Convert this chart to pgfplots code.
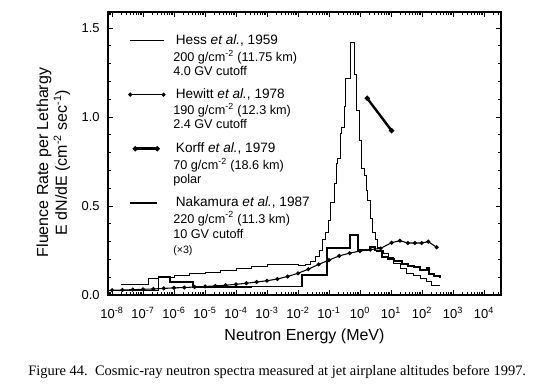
\documentclass[border=0pt]{standalone}
\usepackage{fontspec}
\setmainfont{Liberation Sans}
\newfontfamily\capfont{Liberation Serif}
\usepackage{pgfplots}
\pgfplotsset{compat=1.18}
\pgfplotsset{
  korffleg/.style={legend image code/.code={\path[draw=none] (-2pt,0pt) -- (34.25pt,0pt); \draw[##1] plot coordinates {(3.75pt,0pt) (20.25pt,0pt)};}},
  nakaleg/.style={legend image code/.code={\path[draw=none] (-2pt,0pt) -- (34.25pt,0pt); \draw[##1] (0pt,0pt) -- (20.25pt,0pt);}},
}
\begin{document}
\begin{tikzpicture}[x=1pt,y=1pt]
\path[use as bounding box] (0,0) rectangle (402,292.5);
\begin{axis}[
  at={(81pt,71.25pt)}, anchor=south west,
  width=294.75pt, height=212.25pt, scale only axis,
  xmode=log, xmin=7.4e-9, xmax=3.55e4, ymin=0, ymax=1.59,
  xtickten={-8,-7,-6,-5,-4,-3,-2,-1,0,1,2,3,4},
  xticklabels={10\textsuperscript{-8},10\textsuperscript{-7},10\textsuperscript{-6},10\textsuperscript{-5},10\textsuperscript{-4},10\textsuperscript{-3},10\textsuperscript{-2},10\textsuperscript{-1},10\textsuperscript{0},10\textsuperscript{1},10\textsuperscript{2},10\textsuperscript{3},10\textsuperscript{4}},
  minor xtick={8e-9,9e-9,
    2e-8,3e-8,4e-8,5e-8,6e-8,7e-8,8e-8,9e-8,
    2e-7,3e-7,4e-7,5e-7,6e-7,7e-7,8e-7,9e-7,
    2e-6,3e-6,4e-6,5e-6,6e-6,7e-6,8e-6,9e-6,
    2e-5,3e-5,4e-5,5e-5,6e-5,7e-5,8e-5,9e-5,
    2e-4,3e-4,4e-4,5e-4,6e-4,7e-4,8e-4,9e-4,
    2e-3,3e-3,4e-3,5e-3,6e-3,7e-3,8e-3,9e-3,
    0.02,0.03,0.04,0.05,0.06,0.07,0.08,0.09,
    0.2,0.3,0.4,0.5,0.6,0.7,0.8,0.9,
    2,3,4,5,6,7,8,9,
    20,30,40,50,60,70,80,90,
    200,300,400,500,600,700,800,900,
    2000,3000,4000,5000,6000,7000,8000,9000,
    20000,30000},
  ytick={0,0.5,1,1.5}, yticklabels={0.0,0.5,1.0,1.5},
  minor ytick={0.1,0.2,0.3,0.4,0.6,0.7,0.8,0.9,1.1,1.2,1.3,1.4},
  tick align=inside, major tick length=3.5pt, minor tick length=2pt,
  tick style={black, line width=0.6pt},
  axis line style={line width=0.8pt},
  xticklabel style={font=\fontsize{9.7}{11}\selectfont, anchor=base, yshift=-17.6pt},
  yticklabel style={font=\fontsize{9.7}{11}\selectfont, anchor=east, xshift=-2.8pt},
  xlabel={Neutron Energy (MeV)},
  xlabel style={font=\fontsize{12}{14}\selectfont, at={(axis description cs:0.5,-0.145)}, anchor=center},
  ylabel={Fluence Rate per Lethargy\\E dN/dE (cm\textsuperscript{-2} sec\textsuperscript{-1})},
  ylabel style={font=\fontsize{12}{14}\selectfont, align=center, at={(axis description cs:-0.139,0.468)}, anchor=center},
  legend image code/.code={\path[draw=none] (-2pt,0pt) -- (34.25pt,0pt); \draw[#1] plot coordinates {(0pt,0pt) (25pt,0pt)};},
  legend cell align=left,
  legend style={at={(axis description cs:0.0492,0.922)}, anchor=north west, draw=none, fill=none,
    font=\fontsize{10.2}{12}\selectfont, row sep=31pt, inner sep=0pt,
    nodes={inner sep=0pt, text height=7.5pt, text depth=2pt}},
]
% Hess et al. 1959
\addplot[const plot mark left, black, line width=0.5pt, no marks] coordinates {
(1.9e-8,0.062) (1.48e-7,0.094) (3.16e-7,0.10) (1e-6,0.11) (3.16e-6,0.12) (1e-5,0.13)
(3.16e-5,0.14) (1e-4,0.15) (3.16e-4,0.16) (1e-3,0.17) (3.16e-3,0.17) (1e-2,0.165)
(0.0178,0.17) (0.0251,0.19) (0.0355,0.215) (0.0501,0.25) (0.0603,0.31) (0.0741,0.35)
(0.0933,0.42) (0.107,0.52) (0.151,0.63) (0.178,0.74) (0.19,0.77) (0.226,0.91)
(0.257,0.94) (0.302,1.06) (0.347,1.22) (0.479,1.42) (0.646,1.24) (0.776,1.04)
(0.933,0.87) (1.07,0.71) (1.35,0.67) (1.55,0.59) (1.70,0.53) (2.09,0.43) (2.45,0.35)
(3.02,0.31) (3.55,0.27) (4.47,0.25) (5.5,0.235) (7.94,0.21) (11.5,0.18) (19.5,0.15)
(31.6,0.12) (51.3,0.11) (87.1,0.095) (141,0.075) (204,0.056) (380,0.056)};
\addlegendentry{Hess \textit{et al.}, 1959}
% Hewitt et al. 1978
\addplot[black, line width=0.8pt, mark=*, mark size=1.1pt] coordinates {
(1e-8,0.027) (2.15e-8,0.028) (4.64e-8,0.030) (1e-7,0.032) (2.15e-7,0.034) (4.64e-7,0.037)
(1e-6,0.040) (2.15e-6,0.042) (4.64e-6,0.045) (1e-5,0.048) (2.15e-5,0.051) (4.64e-5,0.055)
(1e-4,0.060) (2.15e-4,0.066) (4.64e-4,0.073) (1e-3,0.080) (2.15e-3,0.090) (4.64e-3,0.104)
(1e-2,0.122) (2.15e-2,0.145) (4.64e-2,0.172) (0.1,0.196) (0.215,0.220) (0.464,0.235)
(1,0.247) (2.15,0.255) (4.64,0.262) (10.5,0.294) (19.5,0.305) (35,0.292) (59,0.292)
(98,0.292) (160,0.300) (297,0.268)};
\addlegendentry{Hewitt \textit{et al.}, 1978}
% Korff et al. 1979
\addplot[black, line width=1.8pt, mark=*, mark size=0.9pt, korffleg]
  coordinates {(1.72,1.105) (10.5,0.923)};
\addlegendentry{Korff \textit{et al.}, 1979}
% Nakamura et al. 1987 (x3)
\addplot[const plot mark left, black, line width=1.4pt, no marks, nakaleg] coordinates {
(7.4e-9,0.025) (3.16e-7,0.10) (7.4e-7,0.072) (4.0e-6,0.045) (3.16e-4,0.048) (1.32e-2,0.112)
(8.5e-2,0.262) (0.48,0.337) (0.89,0.255) (2.09,0.27) (3.02,0.25) (3.55,0.245) (5.25,0.215)
(7.94,0.20) (12.6,0.19) (22.4,0.175) (35.5,0.165) (56.2,0.155) (89.1,0.14) (141,0.15)
(166,0.12) (251,0.105) (380,0.094)};
\addlegendentry{Nakamura \textit{et al.}, 1987}
\end{axis}
\begin{scope}[every node/.style={anchor=base west, inner sep=0pt, font=\fontsize{9.5}{11}\selectfont}]
\node at (129.75,246.0) {200 g/cm\textsuperscript{-2} (11.75 km)};
\node at (129.75,235.5) {4.0 GV cutoff};
\node at (129.75,206.25) {190 g/cm\textsuperscript{-2} (12.3 km)};
\node at (129.75,196.5) {2.4 GV cutoff};
\node at (129.75,165.0) {70 g/cm\textsuperscript{-2} (18.6 km)};
\node at (129.75,155.25) {polar};
\node at (129.75,125.25) {220 g/cm\textsuperscript{-2} (11.3 km)};
\node at (129.75,114.0) {10 GV cutoff};
\node[font=\fontsize{8}{9}\selectfont] at (129.75,102.75) {(\texttimes3)};
\end{scope}
\node[anchor=base west, inner sep=0pt, font=\capfont\fontsize{10.86}{13}\selectfont] at (21,11.25)
  {Figure 44.\ \ Cosmic-ray neutron spectra measured at jet airplane altitudes before 1997.};
\end{tikzpicture}
\end{document}
